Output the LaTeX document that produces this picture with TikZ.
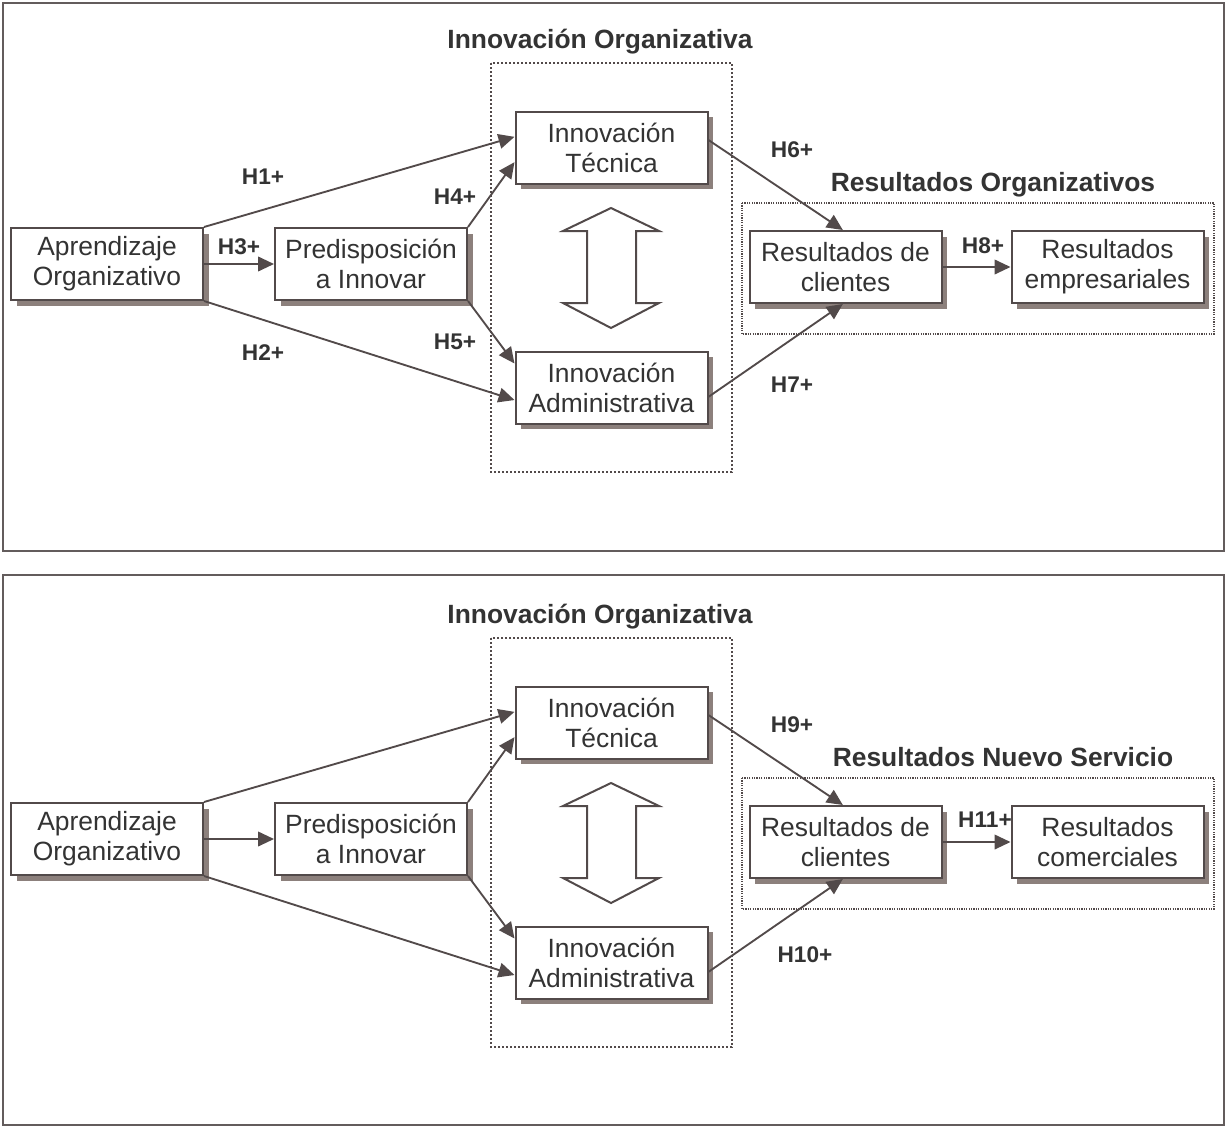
\documentclass[tikz,border=0pt]{standalone}
\usepackage{fontspec}
\setmainfont{Liberation Sans}
\usetikzlibrary{arrows.meta,shadows}
\definecolor{ln}{RGB}{82,74,74}
\definecolor{sh}{RGB}{140,128,124}
\definecolor{tx}{RGB}{51,51,51}
\tikzset{
 box/.style={draw=ln, line width=1.5pt, fill=white, minimum width=144pt, minimum height=54pt, inner sep=0pt, align=center, text=tx, font=\fontsize{19.8}{22.5}\selectfont, drop shadow={fill=sh, opacity=1, shadow xshift=4.2pt, shadow yshift=-4.2pt}},
 conn/.style={draw=ln, line width=1.4pt, -{Triangle[length=12pt,width=11pt]}},
 hlab/.style={font=\fontsize{17}{20}\bfseries\selectfont, text=tx, inner sep=0pt},
 ttl/.style={font=\fontsize{19.8}{24}\bfseries\selectfont, text=tx, inner sep=0pt, anchor=base},
 grpA/.style={draw=ln, line width=1.6pt, dash pattern=on 1.6pt off 1.4pt},
 grpB/.style={draw=ln, line width=0.9pt, dash pattern=on 0.9pt off 0.9pt},
 frame/.style={draw=ln!90, line width=1.6pt},
 dbl/.style={draw=ln, line width=1.5pt, fill=white, line join=miter},
}
\begin{document}
\begin{tikzpicture}[x=0.75pt,y=-0.75pt]
\useasboundingbox (0,0) rectangle (1227,1128);

% ---------------- top panel ----------------
\draw[frame] (3,3) rectangle (1224,551);
\draw[grpA] (491,63) rectangle (732,472);
\draw[grpB] (742,203) rectangle (1214,334);
\node[ttl] (t1) at (600,48) {Innovación Organizativa};
\node[ttl] (r1) at (993,191) {Resultados Organizativos};

\node[box] (a1) at (107,264) {Aprendizaje\\Organizativo};
\node[box] (p1) at (371,264) {Predisposición\\a Innovar};
\node[box] (it1) at (611.5,147.5) {Innovación\\Técnica};
\node[box] (ia1) at (611.5,387.5) {Innovación\\Administrativa};
\node[box] (c1) at (845.5,267) {Resultados de\\clientes};
\node[box] (e1) at (1107.5,267) {Resultados\\empresariales};

\draw[dbl] (611,208) -- (659,231) -- (636,231) -- (636,303) -- (659,303) -- (611,328)
  -- (563,303) -- (587,303) -- (587,231) -- (563,231) -- cycle;

\draw[conn] (a1.north east) -- ([yshift=8pt]it1.west);
\draw[conn] (p1.north east) -- ([yshift=-11pt]it1.west);
\draw[conn] (a1.south east) -- ([yshift=-9.4pt]ia1.west);
\draw[conn] (p1.south east) -- ([yshift=18pt]ia1.west);
\draw[conn] (a1.east) -- (p1.west);
\draw[conn] ([yshift=5.6pt]it1.east) -- ([xshift=-2pt]c1.north);
\draw[conn] ([yshift=-7pt]ia1.east) -- ([xshift=-2pt]c1.south);
\draw[conn] (c1.east) -- (e1.west);

\node[hlab] (h1) at (263,177) {H1+};
\node[hlab] (h2) at (263,353) {H2+};
\node[hlab] (h3) at (239,247) {H3+};
\node[hlab] (h4) at (455,197) {H4+};
\node[hlab] (h5) at (455,342) {H5+};
\node[hlab] (h6) at (792,150) {H6+};
\node[hlab] (h7) at (792,385) {H7+};
\node[hlab] (h8) at (983,246) {H8+};

% ---------------- bottom panel ----------------
\begin{scope}[shift={(0,575)}]
\draw[frame] (3,0) rectangle (1224,550);
\draw[grpA] (491,63) rectangle (732,472);
\draw[grpB] (742,203) rectangle (1214,334);
\node[ttl] (t2) at (600,48) {Innovación Organizativa};
\node[ttl] (r2) at (1003,191) {Resultados Nuevo Servicio};

\node[box] (a2) at (107,264) {Aprendizaje\\Organizativo};
\node[box] (p2) at (371,264) {Predisposición\\a Innovar};
\node[box] (it2) at (611.5,147.5) {Innovación\\Técnica};
\node[box] (ia2) at (611.5,387.5) {Innovación\\Administrativa};
\node[box] (c2) at (845.5,267) {Resultados de\\clientes};
\node[box] (e2) at (1107.5,267) {Resultados\\comerciales};

\draw[dbl] (611,208) -- (659,231) -- (636,231) -- (636,303) -- (659,303) -- (611,328)
  -- (563,303) -- (587,303) -- (587,231) -- (563,231) -- cycle;

\draw[conn] (a2.north east) -- ([yshift=8pt]it2.west);
\draw[conn] (p2.north east) -- ([yshift=-11pt]it2.west);
\draw[conn] (a2.south east) -- ([yshift=-9.4pt]ia2.west);
\draw[conn] (p2.south east) -- ([yshift=18pt]ia2.west);
\draw[conn] (a2.east) -- (p2.west);
\draw[conn] ([yshift=5.6pt]it2.east) -- ([xshift=-2pt]c2.north);
\draw[conn] ([yshift=-7pt]ia2.east) -- ([xshift=-2pt]c2.south);
\draw[conn] (c2.east) -- (e2.west);

\node[hlab] (h9) at (792,150) {H9+};
\node[hlab] (h10) at (805,380) {H10+};
\node[hlab] (h11) at (985,245) {H11+};
\end{scope}
\end{tikzpicture}
\end{document}
